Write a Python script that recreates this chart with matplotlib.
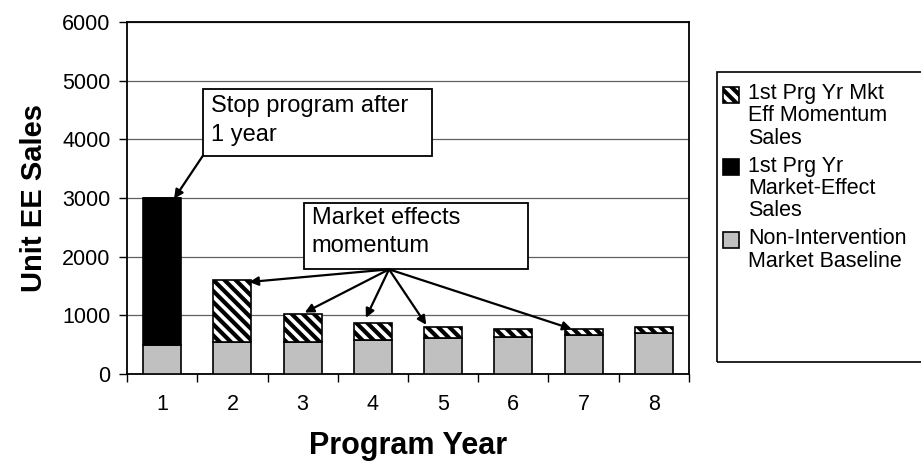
import matplotlib
matplotlib.use("Agg")
import matplotlib.pyplot as plt
from matplotlib.patches import Rectangle
import numpy as np

plt.rcParams['font.family'] = ['Liberation Sans', 'DejaVu Sans']
plt.rcParams['hatch.linewidth'] = 3.0

years = [1, 2, 3, 4, 5, 6, 7, 8]
baseline = [500, 540, 540, 580, 610, 640, 670, 700]
first_year_effect = [2500, 0, 0, 0, 0, 0, 0, 0]
momentum = [0, 1060, 490, 290, 190, 130, 100, 100]
y_ticks = [0, 1000, 2000, 3000, 4000, 5000, 6000]

labels = ["Non-Intervention\nMarket Baseline",
          "1st Prg Yr\nMarket-Effect\nSales",
          "1st Prg Yr Mkt\nEff Momentum\nSales"]

fig = plt.figure(figsize=(9.21, 4.70), dpi=100)
ax = fig.add_axes([0.138, 0.204, 0.610, 0.749])

x = np.array(years)
base = np.array(baseline)
eff = np.array(first_year_effect)
mom = np.array(momentum)
w = 0.54

b1 = ax.bar(x, base, w, color='#c0c0c0', edgecolor='black', linewidth=1.2, zorder=3)
b2 = ax.bar(x, eff, w, bottom=base, color='black', edgecolor='black', linewidth=1.2, zorder=3)
b3 = ax.bar(x, mom, w, bottom=base + eff, color='white', edgecolor='black',
            hatch='\\\\\\', linewidth=1.2, zorder=3)

ax.set_xlim(0.5, 8.5)
ax.set_ylim(0, 6000)
ax.set_yticks(y_ticks)
ax.set_xticks(years)
ax.set_xticks(np.arange(0.5, 9.0, 1.0), minor=True)
ax.tick_params(axis='x', which='major', length=0, pad=14, labelsize=15.5)
ax.tick_params(axis='x', which='minor', length=6, width=1, direction='out')
ax.tick_params(axis='y', length=6, width=1, direction='out', pad=6, labelsize=15.5)
ax.yaxis.grid(True, color='#606060', linewidth=0.9, zorder=0)
for s in ax.spines.values():
    s.set_linewidth(1.3)
    s.set_color('black')

ax.set_ylabel("Unit EE Sales", fontsize=21, fontweight='bold', labelpad=10)
ax.set_xlabel("Program Year", fontsize=22, fontweight='bold', labelpad=12)

# callout boxes (fixed size, text sits at the top left)
arrow = dict(arrowstyle='-|>', color='black', lw=1.6, mutation_scale=13, shrinkA=0, shrinkB=0)

ax.add_patch(Rectangle((1.58, 3724), 3.26, 1140, fc='white', ec='black', lw=1.3, zorder=5))
ax.text(1.70, 4760, "Stop program after\n1 year", fontsize=17, ha='left', va='top',
        linespacing=1.4, zorder=6)
ax.annotate("", xy=(1.17, 2990), xytext=(1.58, 3724), arrowprops=arrow, zorder=5)

ax.add_patch(Rectangle((3.02, 1786), 3.19, 1139, fc='white', ec='black', lw=1.3, zorder=5))
ax.text(3.13, 2840, "Market effects\nmomentum", fontsize=17, ha='left', va='top',
        linespacing=1.35, zorder=6)
targets = [(2.24, 1570), (3.03, 1050), (3.90, 960), (4.76, 840), (6.83, 770)]
for tx, ty in targets:
    ax.annotate("", xy=(tx, ty), xytext=(4.23, 1786), arrowprops=arrow, zorder=5)

# legend frame runs off the right edge
frame = Rectangle((717 / 921, 1 - 362 / 470), 0.3, 290 / 470, transform=fig.transFigure,
                  fill=False, edgecolor='black', linewidth=1.2, clip_on=False)
fig.patches.append(frame)
fs = 15.5
leg = fig.legend([b3, b2, b1], labels[::-1], loc='upper left',
                 bbox_to_anchor=(723 / 921, 1 - 83 / 470), frameon=False,
                 fontsize=fs, handlelength=0.75, handleheight=0.75, handletextpad=0.4,
                 labelspacing=0.33, borderaxespad=0, borderpad=0)
for t in leg.get_texts():
    t.set_linespacing(1.08)

# put each marker next to the first line of its label
pitch = 1.08 * 0.93 * fs
for h, lab in zip(leg.legend_handles, labels[::-1]):
    n = lab.count("\n")
    h.set_y(h.get_y() + n * pitch / 2)

fig.savefig("out.png", dpi=100)
